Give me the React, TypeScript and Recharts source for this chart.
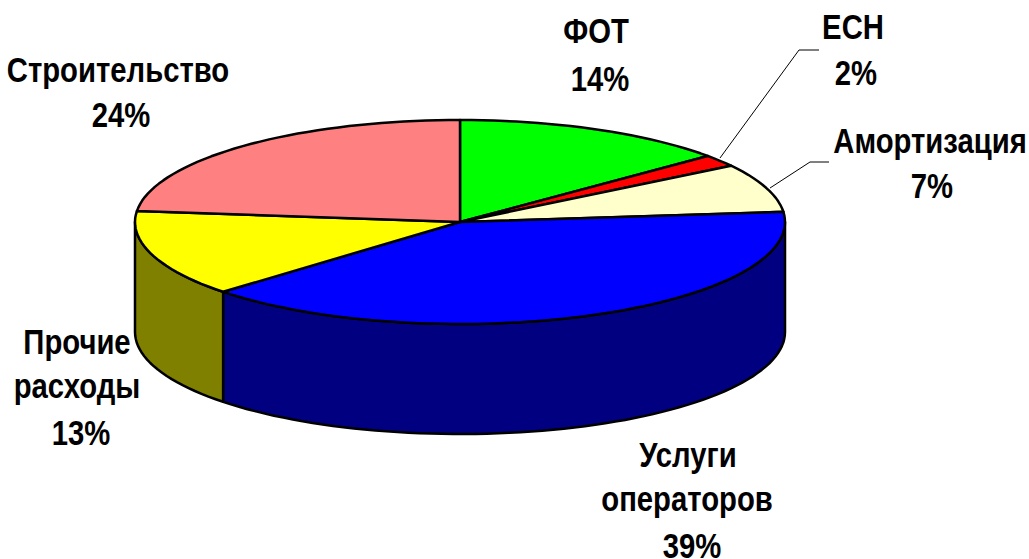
import { Pie, PieChart } from 'recharts'

const categories = ['ФОТ', 'ЕСН', 'Амортизация', 'Услуги операторов', 'Прочие расходы', 'Строительство']
const shares = [13.8, 1.9, 7.7, 39.6, 13.7, 23.3]
const percentLabels = ['14%', '2%', '7%', '39%', '13%', '24%']
const topColors = ['#00ff00', '#ff0000', '#ffffcc', '#0000ff', '#ffff00', '#ff8080']
const wallColors = ['#008000', '#800000', '#808066', '#000080', '#808000', '#804040']

const data = categories.map((name, i) => ({
  name,
  value: shares[i],
  percent: percentLabels[i],
  top: topColors[i],
  wall: wallColors[i],
}))

const SQUASH = 102 / 325
const DEPTH = 110
const RAD = Math.PI / 180

const labelLayout: Record<string, { lines: { text: string; x: number; y: number }[]; leader?: string }> = {
  'ФОТ': { lines: [{ text: 'ФОТ', x: 596, y: 43 }, { text: '%', x: 600, y: 91 }] },
  'ЕСН': {
    lines: [{ text: 'ЕСН', x: 853, y: 39 }, { text: '%', x: 856, y: 85 }],
    leader: '720,158 799,50 819,50',
  },
  'Амортизация': {
    lines: [{ text: 'Амортизация', x: 930, y: 153 }, { text: '%', x: 932, y: 198 }],
    leader: '770,188 810,162 829,162',
  },
  'Услуги операторов': {
    lines: [
      { text: 'Услуги', x: 688, y: 467 },
      { text: 'операторов', x: 687, y: 511 },
      { text: '%', x: 692, y: 558 },
    ],
  },
  'Прочие расходы': {
    lines: [
      { text: 'Прочие', x: 77, y: 354 },
      { text: 'расходы', x: 77, y: 398 },
      { text: '%', x: 81, y: 445 },
    ],
  },
  'Строительство': {
    lines: [{ text: 'Строительство', x: 118, y: 82 }, { text: '%', x: 121, y: 127 }],
  },
}

function arcPoints(cx: number, cy: number, r: number, from: number, to: number) {
  const steps = Math.max(2, Math.ceil(Math.abs(to - from) / 2))
  const pts: string[] = []
  for (let i = 0; i <= steps; i++) {
    const a = (from + ((to - from) * i) / steps) * RAD
    pts.push(`${(cx + r * Math.cos(a)).toFixed(1)},${(cy - r * SQUASH * Math.sin(a)).toFixed(1)}`)
  }
  return pts
}

function TopSlice(props: any) {
  const { cx, cy, outerRadius, startAngle, endAngle, payload } = props
  const fill = payload?.top ?? props.top
  const pts = arcPoints(cx, cy, outerRadius, startAngle, endAngle)
  return <polygon points={`${cx},${cy} ${pts.join(' ')}`} fill={fill} stroke="#000" strokeWidth={2.5} strokeLinejoin="round" />
}

function WallSlice(props: any) {
  const { cx, cy, outerRadius, startAngle, endAngle, payload } = props
  const fill = payload?.wall ?? props.wall
  // only the part of the rim that faces the viewer (lower half of the ellipse)
  const hi = Math.max(startAngle, endAngle)
  const lo = Math.min(startAngle, endAngle)
  const from = Math.min(hi, 0)
  const to = Math.max(lo, -180)
  if (from <= to) return <g />
  const upper = arcPoints(cx, cy, outerRadius, from, to)
  const lower = arcPoints(cx, cy + DEPTH, outerRadius, to, from)
  return <polygon points={[...upper, ...lower].join(' ')} fill={fill} stroke="#000" strokeWidth={2.5} strokeLinejoin="round" />
}

function renderLabel(props: any) {
  const { name, percent } = props.payload ?? props
  const layout = labelLayout[name]
  if (!layout) return <g />
  return (
    <g>
      {layout.leader && <polyline points={layout.leader} fill="none" stroke="#000" strokeWidth={1} />}
      {layout.lines.map((line) => (
        <text
          key={line.text}
          transform={`translate(${line.x},${line.y}) scale(0.836,1)`}
          textAnchor="middle"
          fill="#000"
          stroke="none"
          fontFamily="Liberation Sans"
          fontWeight={700}
          fontSize={35}
        >
          {line.text === '%' ? percent : line.text}
        </text>
      ))}
    </g>
  )
}

export default function App() {
  return (
    <div style={{ position: 'absolute', left: 0, top: 0, width: 1029, height: 559 }}>
      <PieChart width={1029} height={559} margin={{ top: 0, right: 0, bottom: 0, left: 0 }}>
        <Pie
          data={data}
          dataKey="value"
          cx={460}
          cy={222}
          outerRadius={325}
          startAngle={90}
          endAngle={-270}
          stroke="none"
          shape={WallSlice}
          isAnimationActive={false}
        />
        <Pie
          data={data}
          dataKey="value"
          cx={460}
          cy={222}
          outerRadius={325}
          startAngle={90}
          endAngle={-270}
          shape={TopSlice}
          label={renderLabel}
          labelLine={false}
          isAnimationActive={false}
        />
      </PieChart>
    </div>
  )
}
